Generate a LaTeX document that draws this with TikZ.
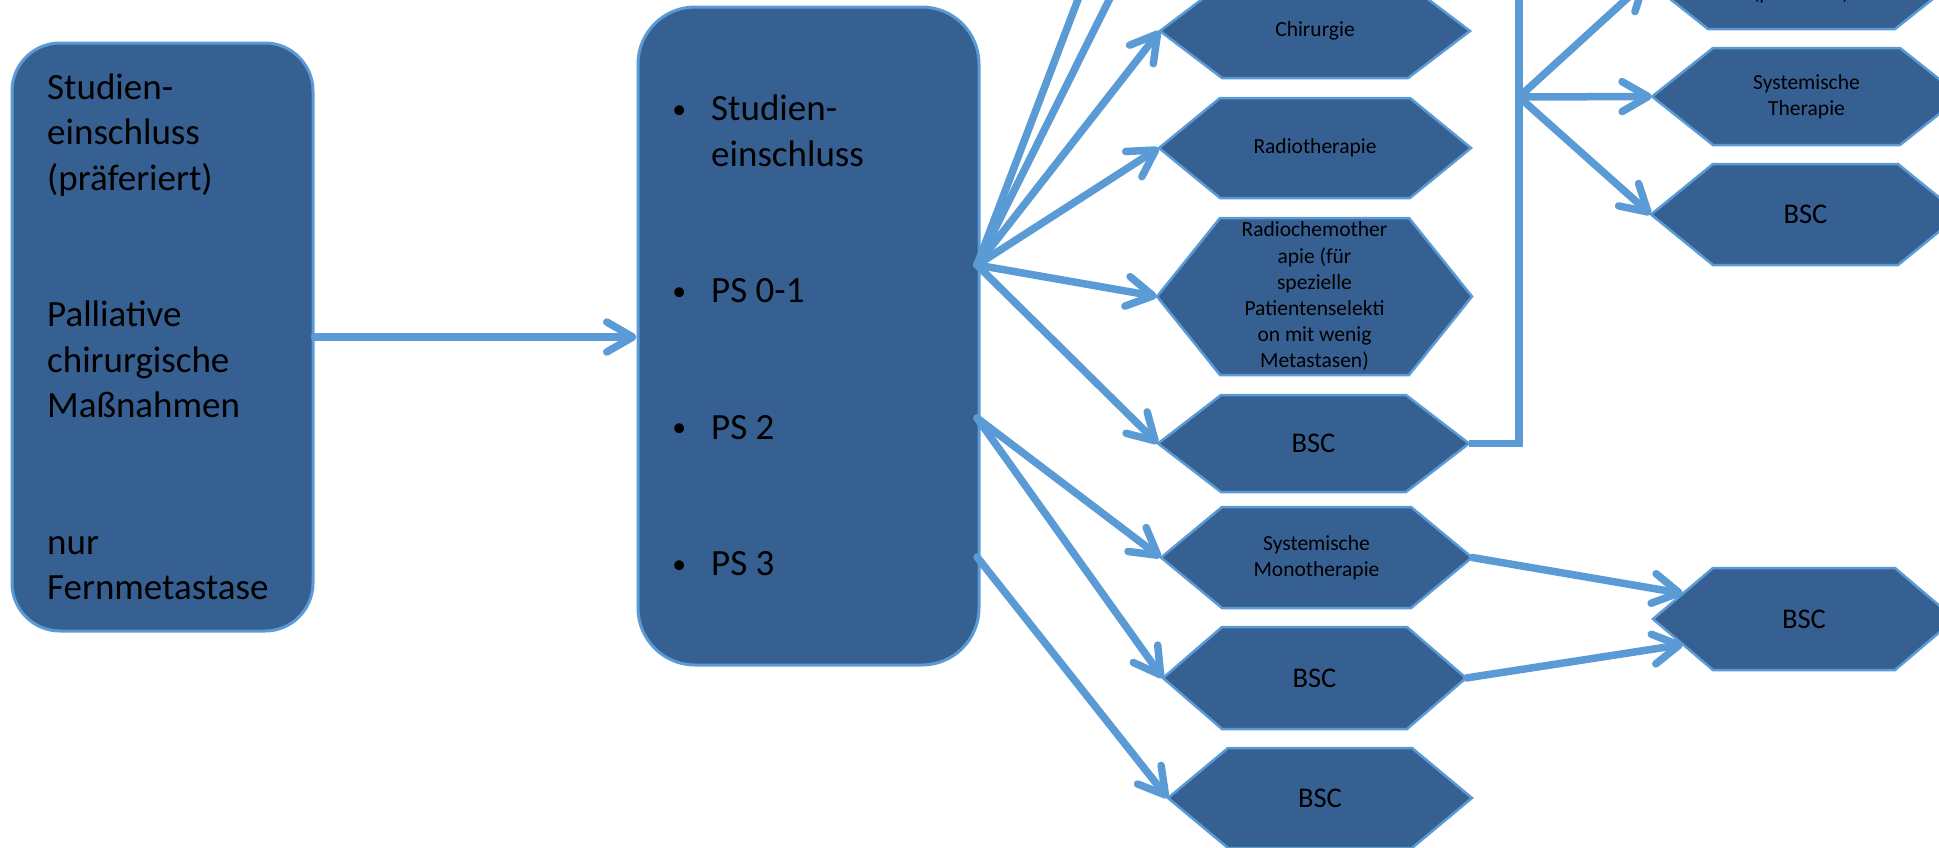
\documentclass[tikz,border=0pt]{standalone}
\usepackage{fontspec}
\usepackage{graphicx}
\setmainfont{Carlito}
\usetikzlibrary{arrows.meta,calc}

\definecolor{boxfill}{HTML}{376092}
\definecolor{edgeblue}{HTML}{5B9BD5}

% font sizes (1 unit = 1pt)
\newcommand\fBig{\fontsize{37}{45.5}\selectfont}
\newcommand\fSmall{\fontsize{21.5}{26.2}\selectfont}
\newcommand\fBsc{\fontsize{28.5}{34}\selectfont}
\newcommand\bul{\llap{\makebox[64pt]{\raisebox{2.5pt}{\scalebox{0.75}{\textbullet}}}}}

\tikzset{
  panel/.style={draw=edgeblue, line width=3pt, fill=boxfill, rounded corners=#1, inner sep=0pt},
  hexpath/.style={draw=edgeblue, line width=2.5pt, fill=boxfill, line join=miter},
  hexnode/.style={inner sep=0pt, align=center},
  bigtext/.style={inner sep=0pt, font=\fBig, anchor=base west},
  link/.style={draw=edgeblue, line width=7.5pt, line cap=round},
  arrowlink/.style={link, -{Straight Barb[length=26pt,width=30pt,round]}},
}

% hexagon: [node options]{name}{cx}{cy}{width}{height}{slant}{text}
\newcommand\hexshape[8][]{%
  \path[hexpath] ({#3-#5/2},#4) -- ({#3-#5/2+#7},{#4-#6/2}) -- ({#3+#5/2-#7},{#4-#6/2})
     -- ({#3+#5/2},#4) -- ({#3+#5/2-#7},{#4+#6/2}) -- ({#3-#5/2+#7},{#4+#6/2}) -- cycle;
  \node[hexnode,#1,minimum width=#5pt,minimum height=#6pt] (#2) at (#3,#4) {#8};
  \coordinate (#2-tl) at ({#3-#5/2+#7},{#4-#6/2});
  \coordinate (#2-bl) at ({#3-#5/2+#7},{#4+#6/2});
}

\begin{document}
\begin{tikzpicture}[x=1pt,y=-1pt]
\useasboundingbox (0,0) rectangle (1939,847);
\fill[white] (0,0) rectangle (1939,847);
\clip (0,0) rectangle (1939,847);

% left and middle panels
\node[panel=48pt, minimum width=301pt, minimum height=588pt] (lbox) at (162.5,337) {};
\node[bigtext] (ltext) at (47,99) {\vtop{\hbox{Studien-}\hbox{einschluss}\hbox{(präferiert)}\hbox{}\hbox{}%
  \hbox{Palliative}\hbox{chirurgische}\hbox{Maßnahmen}\hbox{}\hbox{}\hbox{nur}\hbox{Fernmetastase}}};

\node[panel=57pt, minimum width=341pt, minimum height=658pt] (mbox) at (808.5,336) {};
\node[bigtext] (mtext) at (711,120.5) {\vtop{\hbox{\bul Studien-}\hbox{einschluss}\hbox{}\hbox{}%
  \hbox{\bul PS 0-1}\hbox{}\hbox{}\hbox{\bul PS 2}\hbox{}\hbox{}\hbox{\bul PS 3}}};

% first column of options
\hexshape[font=\fSmall]{chir}{1315}{31}{310}{94}{62}{Chirurgie}
\hexshape[font=\fSmall]{radio}{1315}{148}{312}{100}{61}{Radiotherapie}
\hexshape[font=\fSmall]{rchemo}{1314.5}{296.5}{315}{157}{63}{Radiochemother\\apie (für\\spezielle\\Patientenselekti\\on mit wenig\\Metastasen)}
\hexshape[font=\fBsc]{bscA}{1313.5}{443.5}{311}{97}{63}{BSC}
\hexshape[font=\fSmall]{mono}{1316.5}{557.5}{311}{101}{61}{Systemische\\Monotherapie}
\hexshape[font=\fBsc]{bscB}{1314.5}{678}{303}{102}{59}{BSC}
\hexshape[font=\fBsc]{bscC}{1320}{798}{304}{100}{60}{BSC}

% second column
\hexshape[font=\fSmall]{topR}{1801.5}{-19.5}{309}{97}{61}{}
\node[font=\fSmall, inner sep=0pt, anchor=base] (topRtext) at (1801,-1) {(präferiert)};
\hexshape[font=\fSmall]{sysT}{1806.5}{96.5}{309}{97}{61}{Systemische\\Therapie}
\hexshape[font=\fBsc]{bscE}{1805.5}{214.5}{309}{101}{62}{BSC}
\hexshape[font=\fBsc]{bscD}{1804}{619}{302}{102}{60}{BSC}

% connectors
\draw[arrowlink] (lbox.east) -- (lbox.east -| mbox.west);

\coordinate (fanA) at (977,265);
\coordinate (offA) at (1093,-40);
\coordinate (offB) at (1129,-40);
\draw[link] (fanA) -- (offA);
\draw[link] (fanA) -- (offB);
\draw[arrowlink] (fanA) -- (chir.west);
\draw[arrowlink] (fanA) -- (radio.west);
\draw[arrowlink] (fanA) -- (rchemo.west);
\draw[arrowlink] (fanA) -- (bscA.west);

\coordinate (fanB) at (977,418);
\draw[arrowlink] (fanB) -- (mono.west);
\draw[arrowlink] (fanB) -- (bscB.west);

\coordinate (fanC) at (977,557);
\draw[arrowlink] (fanC) -- (bscC.west);

\draw[arrowlink] (mono.east) -- ($(bscD.west)!0.5!(bscD-tl)$);
\draw[arrowlink] (bscB.east) -- ($(bscD.west)!0.5!(bscD-bl)$);

\coordinate (riser) at (1519,-60);
\draw[link, line cap=butt] (bscA.east) -| (riser);
\coordinate (fanD) at (1519,97);
\draw[arrowlink] (fanD) -- (topR.west);
\draw[arrowlink] (fanD) -- (sysT.west);
\draw[arrowlink] (fanD) -- (bscE.west);
\end{tikzpicture}
\end{document}
